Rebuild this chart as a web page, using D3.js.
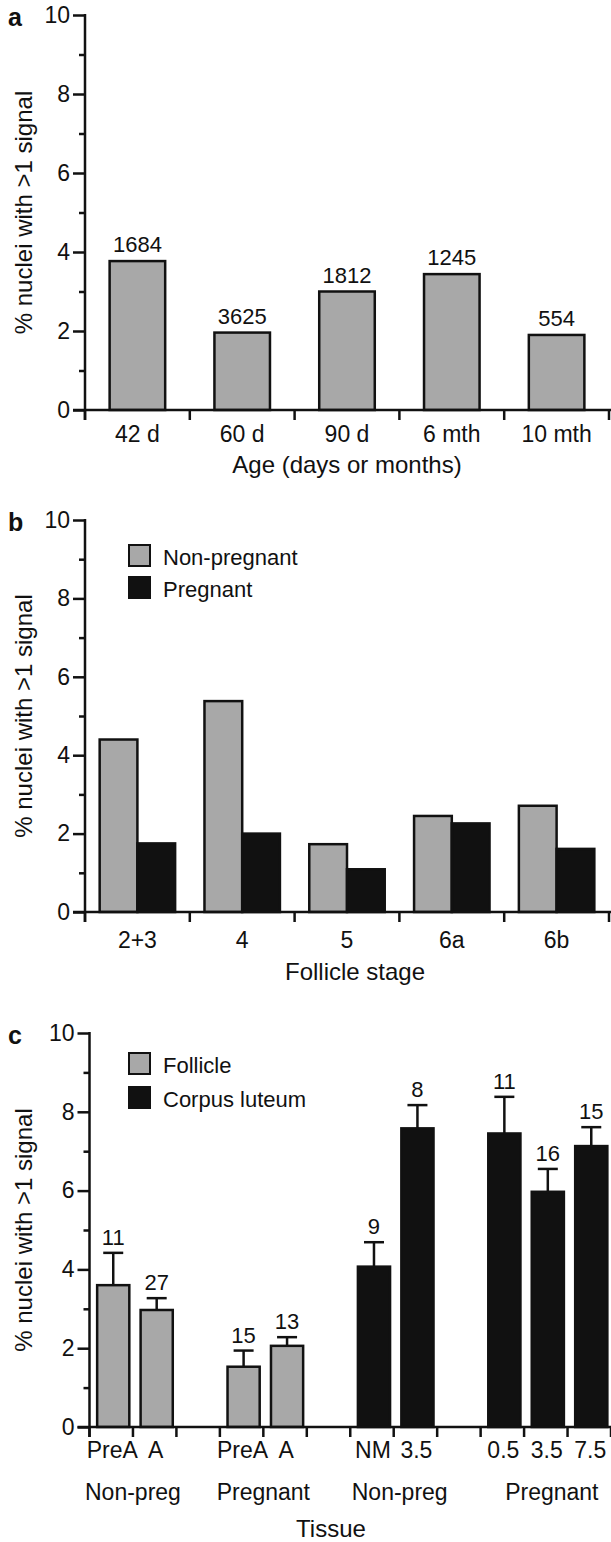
<!DOCTYPE html>
<html>
<head>
<meta charset="utf-8">
<script src="https://cdn.jsdelivr.net/npm/d3@7"></script>
<style>
  html, body { margin: 0; padding: 0; background: #fff; }
  svg { display: block; }
  text { font-family: "Liberation Sans", Arial, Helvetica, sans-serif; fill: #111; }
</style>
</head>
<body>
<div id="chart"></div>
<script>
// ---- Panel a: nuclei with >1 signal by age ----
const ageCategories = ["42 d", "60 d", "90 d", "6 mth", "10 mth"];
const ageValues = [3.77, 1.96, 3.00, 3.44, 1.90];
const ageCounts = ["1684", "3625", "1812", "1245", "554"];

// ---- Panel b: by follicle stage ----
const stageCategories = ["2+3", "4", "5", "6a", "6b"];
const stageSeries = ["Non-pregnant", "Pregnant"];
const nonPregnantValues = [4.40, 5.38, 1.73, 2.45, 2.71];
const pregnantValues = [1.75, 2.00, 1.09, 2.26, 1.61];

// ---- Panel c: by tissue (mean + SEM, n above) ----
const tissueSlots = ["F-NP-PreA", "F-NP-A", "gap1", "F-P-PreA", "F-P-A", "gap2",
                     "CL-NP-NM", "CL-NP-3.5", "gap3", "CL-P-0.5", "CL-P-3.5", "CL-P-7.5"];
const tissueBars = ["F-NP-PreA", "F-NP-A", "F-P-PreA", "F-P-A",
                    "CL-NP-NM", "CL-NP-3.5", "CL-P-0.5", "CL-P-3.5", "CL-P-7.5"];
const tissueTickLabels = ["PreA", "A", "PreA", "A", "NM", "3.5", "0.5", "3.5", "7.5"];
const tissueKinds = ["Follicle", "Follicle", "Follicle", "Follicle",
                     "Corpus luteum", "Corpus luteum", "Corpus luteum", "Corpus luteum", "Corpus luteum"];
const tissueMeans = [3.60, 2.97, 1.53, 2.06, 4.07, 7.58, 7.45, 5.97, 7.13];
const tissueSEM   = [0.82, 0.30, 0.41, 0.22, 0.62, 0.59, 0.93, 0.58, 0.48];
const tissueN     = ["11", "27", "15", "13", "9", "8", "11", "16", "15"];
const tissueGroupLabels = ["Non-preg", "Pregnant", "Non-preg", "Pregnant"];
const tissueGroupSlots = [["F-NP-PreA", "F-NP-A"], ["F-P-PreA", "F-P-A"],
                          ["CL-NP-NM", "CL-NP-3.5"], ["CL-P-0.5", "CL-P-7.5"]];

const yTicksMajor = [0, 2, 4, 6, 8, 10];
const yTicksMinor = [1, 3, 5, 7, 9];
const yTitle = "% nuclei with >1 signal";

const W = 611, H = 1542;
const GREY = "#a8a8a8", INK = "#111";
const AXIS_W = 2.5;

const svg = d3.select("#chart").append("svg")
  .attr("width", W).attr("height", H)
  .attr("viewBox", `0 0 ${W} ${H}`);
svg.append("rect").attr("width", W).attr("height", H).attr("fill", "#fff");

// Shared y-axis with labelled even ticks and short odd ticks
function drawYAxis(g, y, x0, letter) {
  const major = d3.axisLeft(y).tickValues(yTicksMajor).tickSize(12).tickSizeOuter(0).tickPadding(3);
  const minor = d3.axisLeft(y).tickValues(yTicksMinor).tickSize(6).tickSizeOuter(0).tickFormat("");
  const gMaj = g.append("g").attr("transform", `translate(${x0},0)`).call(major);
  const gMin = g.append("g").attr("transform", `translate(${x0},0)`).call(minor);
  [gMaj, gMin].forEach(a => {
    a.select(".domain").remove();
    a.selectAll("line").attr("stroke", INK).attr("stroke-width", AXIS_W);
  });
  gMaj.selectAll("text").attr("font-size", 23).attr("fill", INK)
    .style("font-family", '"Liberation Sans", Arial, sans-serif');
  // vertical spine, running down to the first category tick
  g.append("line").attr("x1", x0).attr("x2", x0)
    .attr("y1", y(10) - 1).attr("y2", y(0) + 10)
    .attr("stroke", INK).attr("stroke-width", AXIS_W);
  // rotated title
  const yMid = (y(0) + y(10)) / 2;
  g.append("text")
    .attr("transform", `translate(32,${yMid}) rotate(-90)`)
    .attr("text-anchor", "middle").attr("font-size", 24)
    .text(yTitle);
  // panel letter
  g.append("text").attr("x", 8).attr("y", y(10) + 11)
    .attr("font-size", 25).attr("font-weight", "bold").text(letter);
}

// Baseline with category-boundary ticks
function drawXBaseline(g, x, y) {
  const n = x.domain().length;
  const r0 = x.range()[0];
  g.append("line").attr("x1", r0 - 12).attr("x2", W)
    .attr("y1", y(0)).attr("y2", y(0))
    .attr("stroke", INK).attr("stroke-width", AXIS_W);
  const bounds = d3.range(n + 1).map(i => r0 + i * x.step());
  g.selectAll("line.bound").data(bounds).join("line").attr("class", "bound")
    .attr("x1", d => d).attr("x2", d => d)
    .attr("y1", y(0)).attr("y2", y(0) + 10)
    .attr("stroke", INK).attr("stroke-width", AXIS_W);
}

function tickLabels(g, x, labels, keys, baseline, shift = 0) {
  g.selectAll(null).data(keys).join("text")
    .attr("x", d => x(d) + x.bandwidth() / 2 + shift)
    .attr("y", baseline)
    .attr("text-anchor", "middle").attr("font-size", 23)
    .text((d, i) => labels[i]);
}

function legend(g, items, x0, y0, gap) {
  items.forEach((it, i) => {
    g.append("rect").attr("x", x0).attr("y", y0 + i * gap)
      .attr("width", 21).attr("height", 21)
      .attr("fill", it.fill).attr("stroke", INK).attr("stroke-width", 2);
    g.append("text").attr("x", x0 + 34).attr("y", y0 + i * gap + 20)
      .attr("font-size", 22).text(it.label);
  });
}

// ===== Panel a =====
{
  const g = svg.append("g");
  const x = d3.scaleBand().domain(ageCategories).range([85, 609])
    .paddingInner(0.47).paddingOuter(0.235);
  const y = d3.scaleLinear().domain([0, 10]).range([410, 15]);

  g.selectAll("rect.bar").data(ageCategories).join("rect").attr("class", "bar")
    .attr("x", d => x(d)).attr("width", x.bandwidth())
    .attr("y", (d, i) => y(ageValues[i]))
    .attr("height", (d, i) => y(0) - y(ageValues[i]))
    .attr("fill", GREY).attr("stroke", INK).attr("stroke-width", 2.5);

  g.selectAll("text.count").data(ageCategories).join("text").attr("class", "count")
    .attr("x", d => x(d) + x.bandwidth() / 2)
    .attr("y", (d, i) => y(ageValues[i]) - 9)
    .attr("text-anchor", "middle").attr("font-size", 22)
    .text((d, i) => ageCounts[i]);

  drawXBaseline(g, x, y);
  drawYAxis(g, y, 85, "a");
  tickLabels(g, x, ageCategories, ageCategories, 442);
  g.append("text").attr("x", 347).attr("y", 473).attr("text-anchor", "middle")
    .attr("font-size", 24).text("Age (days or months)");
}

// ===== Panel b =====
{
  const g = svg.append("g");
  const x = d3.scaleBand().domain(stageCategories).range([85, 609])
    .paddingInner(0.28).paddingOuter(0.14);
  const xs = d3.scaleBand().domain(stageSeries).range([0, x.bandwidth()]);
  const y = d3.scaleLinear().domain([0, 10]).range([912, 520]);
  const color = d3.scaleOrdinal().domain(stageSeries).range([GREY, INK]);
  const series = [nonPregnantValues, pregnantValues];

  stageSeries.forEach((s, si) => {
    g.selectAll(null).data(stageCategories).join("rect")
      .attr("x", d => x(d) + xs(s)).attr("width", xs.bandwidth())
      .attr("y", (d, i) => y(series[si][i]))
      .attr("height", (d, i) => y(0) - y(series[si][i]))
      .attr("fill", color(s)).attr("stroke", INK).attr("stroke-width", 2.5);
  });

  drawXBaseline(g, x, y);
  drawYAxis(g, y, 85, "b");
  tickLabels(g, x, stageCategories, stageCategories, 948);
  g.append("text").attr("x", 355).attr("y", 980).attr("text-anchor", "middle")
    .attr("font-size", 24).text("Follicle stage");
  legend(g, stageSeries.map(s => ({ label: s, fill: color(s) })), 129, 545, 32);
}

// ===== Panel c =====
{
  const g = svg.append("g");
  const x = d3.scaleBand().domain(tissueSlots).range([89.5, 611])
    .paddingInner(0.26).paddingOuter(0.13);
  const y = d3.scaleLinear().domain([0, 10]).range([1427, 1033]);
  const kinds = ["Follicle", "Corpus luteum"];
  const color = d3.scaleOrdinal().domain(kinds).range([GREY, INK]);
  const nudge = 2; // bars sit slightly right of slot centre

  // error bars (upper SEM only) behind the bars
  tissueBars.forEach((k, i) => {
    const cx = x(k) + x.bandwidth() / 2 + nudge;
    const top = y(tissueMeans[i] + tissueSEM[i]);
    g.append("line").attr("x1", cx).attr("x2", cx)
      .attr("y1", y(tissueMeans[i])).attr("y2", top)
      .attr("stroke", INK).attr("stroke-width", 2.5);
    g.append("line").attr("x1", cx - 10).attr("x2", cx + 10)
      .attr("y1", top).attr("y2", top)
      .attr("stroke", INK).attr("stroke-width", 2.5);
    g.append("text").attr("x", cx).attr("y", top - 8)
      .attr("text-anchor", "middle").attr("font-size", 22).text(tissueN[i]);
  });

  g.selectAll("rect.bar").data(tissueBars).join("rect").attr("class", "bar")
    .attr("x", d => x(d) + nudge).attr("width", x.bandwidth())
    .attr("y", (d, i) => y(tissueMeans[i]))
    .attr("height", (d, i) => y(0) - y(tissueMeans[i]))
    .attr("fill", (d, i) => color(tissueKinds[i]))
    .attr("stroke", INK).attr("stroke-width", 2.5);

  drawXBaseline(g, x, y);
  drawYAxis(g, y, 89.5, "c");
  tickLabels(g, x, tissueTickLabels, tissueBars, 1458, 1);

  tissueGroupSlots.forEach((slots, i) => {
    const a = x(slots[0]), b = x(slots[slots.length - 1]) + x.bandwidth();
    g.append("text").attr("x", (a + b) / 2 + (i >= 2 ? 6 : 0)).attr("y", 1500)
      .attr("text-anchor", "middle").attr("font-size", 23).text(tissueGroupLabels[i]);
  });
  g.append("text").attr("x", 331).attr("y", 1537).attr("text-anchor", "middle")
    .attr("font-size", 24).text("Tissue");
  legend(g, kinds.map(s => ({ label: s, fill: color(s) })), 129, 1053, 34);
}
</script>
</body>
</html>
